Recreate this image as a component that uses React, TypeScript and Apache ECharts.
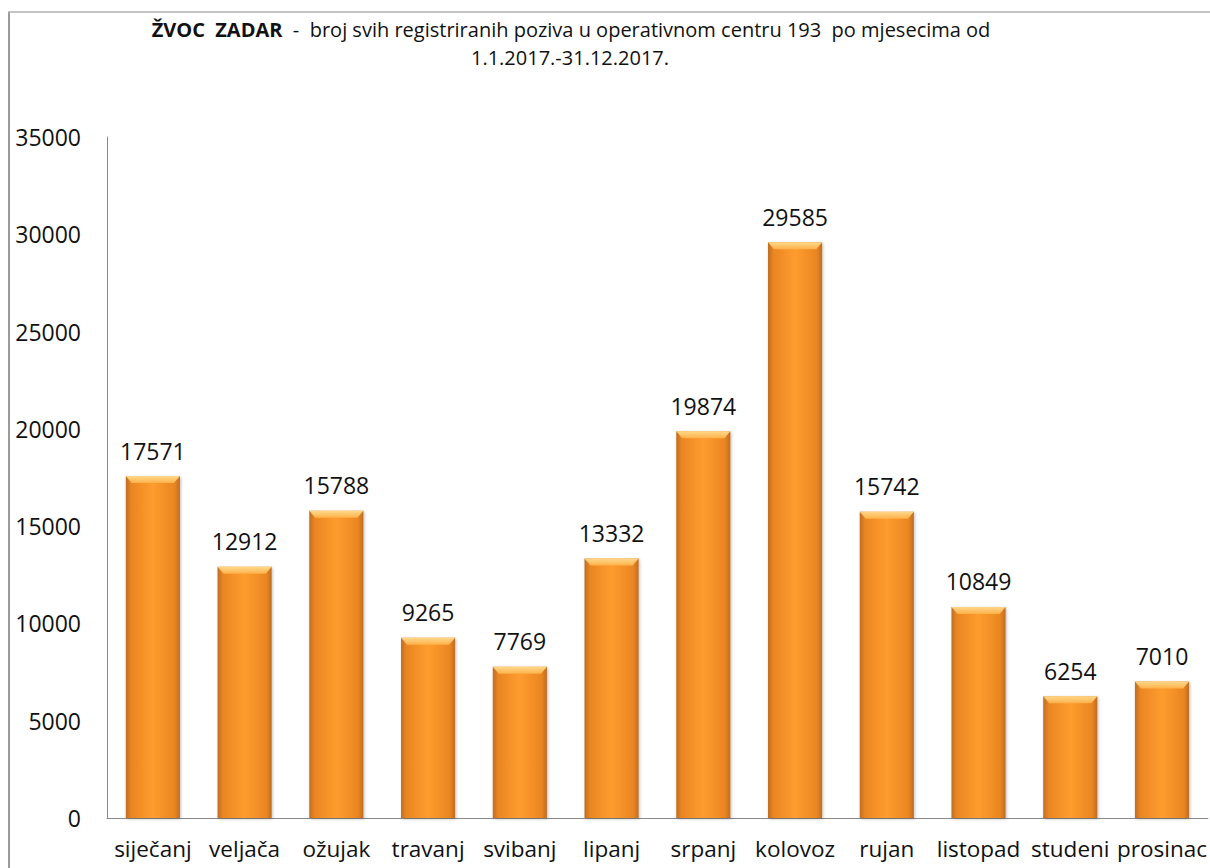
import React, { useEffect, useRef } from "react";
import * as echarts from "echarts";

const months = ["siječanj", "veljača", "ožujak", "travanj", "svibanj", "lipanj", "srpanj", "kolovoz", "rujan", "listopad", "studeni", "prosinac"];
const calls = [17571, 12912, 15788, 9265, 7769, 13332, 19874, 29585, 15742, 10849, 6254, 7010];
const yTicks = [0, 5000, 10000, 15000, 20000, 25000, 30000, 35000];

const titleBold = "ŽVOC  ZADAR";
const titleRest = "  -  broj svih registriranih poziva u operativnom centru 193  po mjesecima od";
const titleLine2 = "1.1.2017.-31.12.2017.";

const FONT = "'Open Sans', sans-serif";
const BAR_RATIO = 0.59;

export default function App() {
  const ref = useRef<HTMLDivElement>(null);
  useEffect(() => {
    if (!ref.current) return;
    const chart = echarts.init(ref.current, null, { renderer: "svg" });
    const barGrad = new echarts.graphic.LinearGradient(0, 0, 1, 0, [
      { offset: 0, color: "#bf6d22" },
      { offset: 0.1, color: "#ea8622" },
      { offset: 0.5, color: "#ff9c2e" },
      { offset: 0.9, color: "#ea8622" },
      { offset: 1, color: "#bf6d22" },
    ]);
    chart.setOption({
      animation: false,
      backgroundColor: "#ffffff",
      grid: { left: 107, right: 2, top: 137, bottom: 50, containLabel: false },
      graphic: [
        { type: "line", shape: { x1: 9, y1: 12, x2: 9, y2: 868 }, style: { stroke: "#9a9a9a", lineWidth: 2 } },
        { type: "line", shape: { x1: 8, y1: 12, x2: 1210, y2: 12 }, style: { stroke: "#b0b0b0", lineWidth: 1.5 } },
        {
          type: "text",
          x: 571,
          y: 29,
          style: {
            text: "{b|" + titleBold + "}{r|" + titleRest + "}",
            align: "center",
            verticalAlign: "middle",
            rich: {
              b: { fontFamily: FONT, fontSize: 20, lineHeight: 22, fontWeight: "bold", fill: "#111" },
              r: { fontFamily: FONT, fontSize: 20, lineHeight: 22, fill: "#111" },
            },
          },
        },
        {
          type: "text",
          x: 570,
          y: 57,
          style: { text: titleLine2, align: "center", verticalAlign: "middle", fontFamily: FONT, fontSize: 20, lineHeight: 22, fill: "#111" },
        },
      ],
      xAxis: {
        type: "category",
        data: months,
        axisLine: { lineStyle: { color: "#8a8a8a", width: 1 } },
        axisTick: { show: false },
        axisLabel: { interval: 0, color: "#111", fontFamily: FONT, fontSize: 22.5, margin: 19 },
      },
      yAxis: {
        type: "value",
        min: 0,
        max: 35000,
        interval: 5000,
        splitLine: { show: false },
        axisLine: { show: true, lineStyle: { color: "#8a8a8a", width: 1 } },
        axisTick: { show: false },
        axisLabel: {
          color: "#111",
          fontFamily: FONT,
          fontSize: 23,
          margin: 26,
          formatter: (v: number) => (yTicks.includes(v) ? String(v) : ""),
        },
      },
      series: [
        {
          type: "bar",
          data: calls,
          barWidth: BAR_RATIO * 100 + "%",
          itemStyle: {
            color: barGrad,
            shadowColor: "rgba(0,0,0,0.25)",
            shadowBlur: 3,
            shadowOffsetX: 1,
            shadowOffsetY: 1,
          },
          label: {
            show: true,
            position: "top",
            distance: 14,
            color: "#111",
            fontFamily: FONT,
            fontSize: 23,
          },
          z: 2,
        },
        {
          type: "custom",
          data: calls.map((v, i) => [i, v]),
          z: 3,
          silent: true,
          renderItem: (params: any, api: any) => {
            const p = api.coord([api.value(0), api.value(1)]);
            const w = api.size([1, 0])[0] * BAR_RATIO;
            const x0 = p[0] - w / 2;
            const x1 = p[0] + w / 2;
            const y = p[1];
            return {
              type: "polygon",
              shape: { points: [[x0, y], [x1, y], [x1 - 6, y + 7], [x0 + 6, y + 7]] },
              style: {
                fill: new echarts.graphic.LinearGradient(0, 0, 0, 1, [
                  { offset: 0, color: "#ffd88a" },
                  { offset: 1, color: "#ffb14a" },
                ]),
              },
            };
          },
        },
      ],
    });
    return () => chart.dispose();
  }, []);
  return <div ref={ref} style={{ position: "absolute", left: 0, top: 0, width: 1210, height: 868 }} />;
}
